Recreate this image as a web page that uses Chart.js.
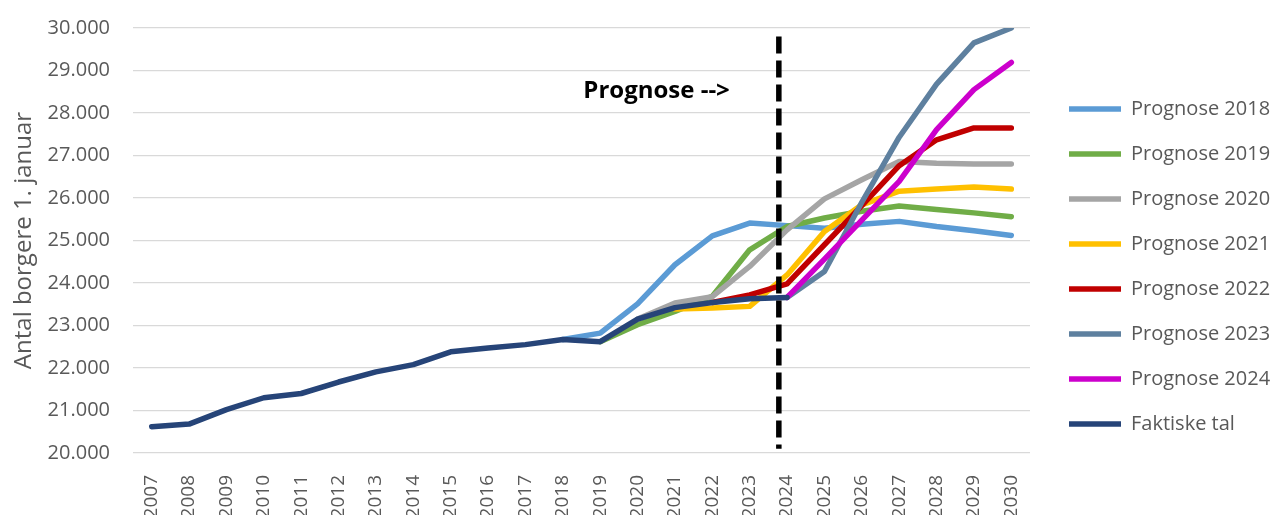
<!DOCTYPE html>
<html lang="da">
<head>
<meta charset="utf-8">
<title>Antal borgere 1. januar</title>
<script src="https://cdn.jsdelivr.net/npm/chart.js@4.4.1/dist/chart.umd.min.js"></script>
<style>
  html, body { margin: 0; padding: 0; background: #fff; }
  #wrap { width: 1276px; height: 515px; }
</style>
</head>
<body>
<div id="wrap"><canvas id="chart" width="1276" height="515"></canvas></div>
<script>
const years = [2007, 2008, 2009, 2010, 2011, 2012, 2013, 2014, 2015, 2016, 2017, 2018,
  2019, 2020, 2021, 2022, 2023, 2024, 2025, 2026, 2027, 2028, 2029, 2030];

// antal borgere pr. 1. januar, null = ingen værdi det år
const faktiske = [20620, 20680, 21020, 21300, 21400, 21670, 21910, 22080, 22380, 22470, 22550, 22670,
  22620, 23150, 23420, 23540, 23630, 23660, null, null, null, null, null, null];
const prog2018 = [null, null, null, null, null, null, null, null, null, null, null, 22670,
  22820, 23510, 24430, 25110, 25410, 25350, 25290, 25380, 25450, 25330, 25230, 25120];
const prog2019 = [null, null, null, null, null, null, null, null, null, null, null, null,
  22620, 23020, 23330, 23690, 24780, 25330, 25530, 25690, 25810, 25730, 25650, 25560];
const prog2020 = [null, null, null, null, null, null, null, null, null, null, null, null,
  null, 23150, 23530, 23680, 24390, 25250, 25980, 26430, 26860, 26820, 26800, 26800];
const prog2021 = [null, null, null, null, null, null, null, null, null, null, null, null,
  null, null, 23390, 23410, 23450, 24190, 25210, 25840, 26160, 26210, 26260, 26210];
const prog2022 = [null, null, null, null, null, null, null, null, null, null, null, null,
  null, null, null, 23540, 23720, 23980, 24900, 25820, 26760, 27370, 27650, 27650];
const prog2023 = [null, null, null, null, null, null, null, null, null, null, null, null,
  null, null, null, null, null, 23660, 24270, 25900, 27430, 28680, 29650, 30000];
const prog2024 = [null, null, null, null, null, null, null, null, null, null, null, null,
  null, null, null, null, null, 23660, 24560, 25480, 26390, 27610, 28550, 29190];

const yTicks = { min: 20000, max: 30000, step: 1000 };

// skillelinje mellem faktiske tal og prognose
const dividerYear = 2023.78;
const dividerRange = [20100, 29800];
const noteText = 'Prognose -->';
const noteValue = 28350;

const series = [
  { label: 'Prognose 2018', data: prog2018, color: '#5B9BD5' },
  { label: 'Prognose 2019', data: prog2019, color: '#70AD47' },
  { label: 'Prognose 2020', data: prog2020, color: '#A5A5A5' },
  { label: 'Prognose 2021', data: prog2021, color: '#FFC000' },
  { label: 'Prognose 2022', data: prog2022, color: '#C00000' },
  { label: 'Prognose 2023', data: prog2023, color: '#5E809F' },
  { label: 'Prognose 2024', data: prog2024, color: '#CC00CC' },
  { label: 'Faktiske tal', data: faktiske, color: '#264478' }
];

const textColor = '#595959';
const fontName = '"Open Sans", "DejaVu Sans", sans-serif';

function thousands(v) {
  return String(v).replace(/\B(?=(\d{3})+(?!\d))/g, '.');
}

const divider = {
  id: 'divider',
  afterDatasetsDraw(chart) {
    const { ctx, scales: { x, y } } = chart;
    const pos = dividerYear - years[0];
    const i = Math.floor(pos);
    const px = x.getPixelForValue(i) + (pos - i) * (x.getPixelForValue(i + 1) - x.getPixelForValue(i));
    ctx.save();
    ctx.strokeStyle = '#000';
    ctx.lineWidth = 5.5;
    ctx.setLineDash([17, 7]);
    ctx.beginPath();
    ctx.moveTo(px, y.getPixelForValue(dividerRange[1]));
    ctx.lineTo(px, y.getPixelForValue(dividerRange[0]));
    ctx.stroke();
    ctx.setLineDash([]);
    ctx.font = 'bold 24px ' + fontName;
    ctx.fillStyle = '#000';
    ctx.textAlign = 'right';
    ctx.textBaseline = 'alphabetic';
    ctx.fillText(noteText, px - 49, y.getPixelForValue(noteValue));
    ctx.restore();
  }
};

// fast bredde på legenden, lidt luft mellem plotområde og legende
const legendBox = {
  id: 'legendBox',
  beforeInit(chart) {
    const fit = chart.legend.fit;
    chart.legend.fit = function () {
      fit.call(this);
      this.width = 246;
    };
  },
  afterLayout(chart) {
    chart.legend.left += 14;
    chart.legend.top -= 10;
  }
};

new Chart(document.getElementById('chart'), {
  type: 'line',
  data: {
    labels: years.map(String),
    datasets: series.map((s, i) => ({
      label: s.label,
      data: s.data,
      borderColor: s.color,
      backgroundColor: s.color,
      borderWidth: 5.5,
      borderCapStyle: 'round',
      borderJoinStyle: 'round',
      pointRadius: 0,
      pointHoverRadius: 0,
      tension: 0,
      spanGaps: false,
      order: series.length - i
    }))
  },
  options: {
    responsive: false,
    animation: false,
    devicePixelRatio: 1,
    layout: { padding: { top: 28, left: 0, right: 0, bottom: 0 } },
    plugins: {
      tooltip: { enabled: false },
      legend: {
        position: 'right',
        align: 'center',
        labels: {
          usePointStyle: true,
          pointStyle: 'line',
          pointStyleWidth: 52,
          padding: 25,
          color: textColor,
          font: { family: fontName, size: 20 },
          sort: (a, b) => a.datasetIndex - b.datasetIndex
        }
      }
    },
    scales: {
      x: {
        type: 'category',
        offset: true,
        grid: { display: false },
        border: { display: false },
        ticks: {
          autoSkip: false,
          minRotation: 90,
          maxRotation: 90,
          padding: 14,
          color: textColor,
          font: { family: fontName, size: 19 }
        },
        afterFit(scale) { scale.height = 62; }
      },
      y: {
        min: yTicks.min,
        max: yTicks.max,
        border: { display: false },
        grid: { color: '#D9D9D9', lineWidth: 1.3, drawTicks: false },
        ticks: {
          stepSize: yTicks.step,
          padding: 23,
          color: textColor,
          font: { family: fontName, size: 20 },
          callback: v => thousands(v)
        },
        title: {
          display: true,
          text: 'Antal borgere 1. januar',
          color: textColor,
          font: { family: fontName, size: 24 },
          padding: { top: 10, bottom: 0 }
        },
        afterFit(scale) {
          scale.width = 133;
          scale.paddingTop = 0;
          scale.paddingBottom = 0;
        }
      }
    }
  },
  plugins: [divider, legendBox]
});
</script>
</body>
</html>
